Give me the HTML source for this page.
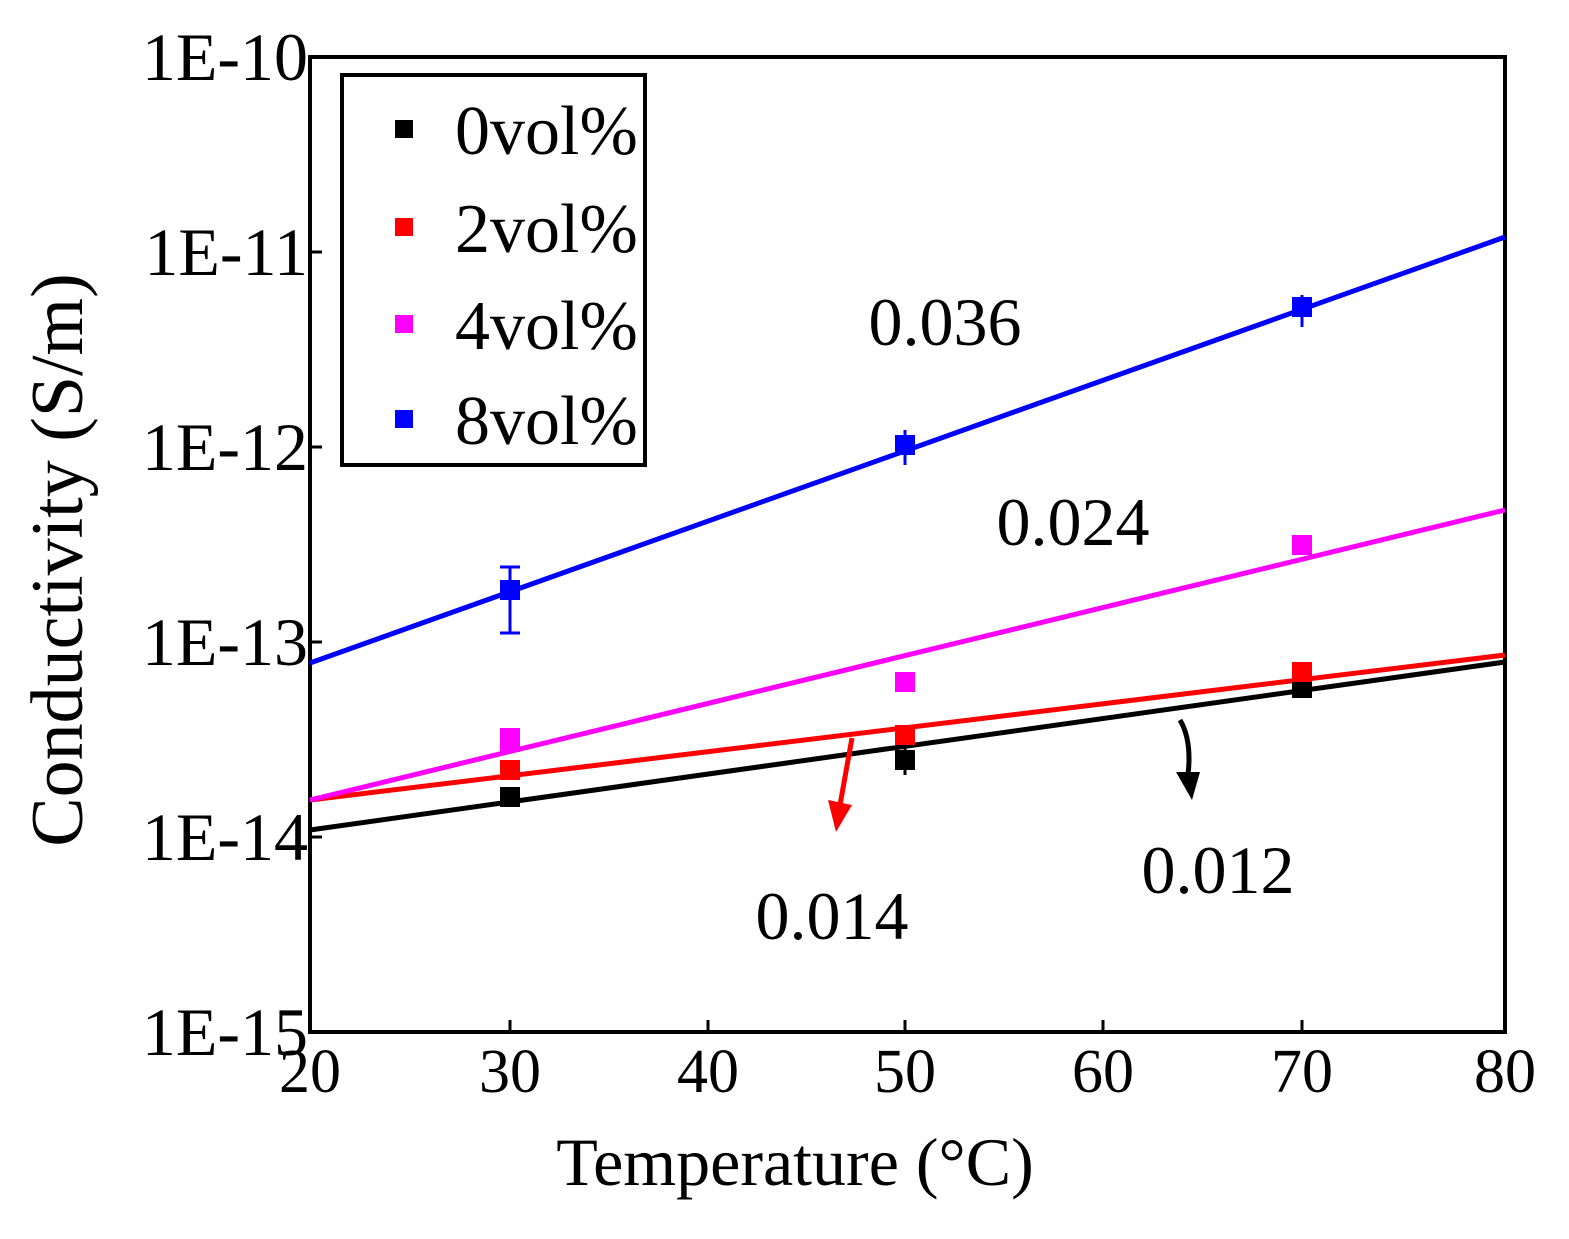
<!DOCTYPE html>
<html><head><meta charset="utf-8"><style>
html,body{margin:0;padding:0;background:#fff;}
text{font-family:"Liberation Serif",serif;fill:#000;}
</style></head><body>
<svg width="1569" height="1234" viewBox="0 0 1569 1234" xmlns="http://www.w3.org/2000/svg">
<rect x="310" y="57" width="1195" height="975" fill="none" stroke="#000" stroke-width="4"/>
<g stroke="#000" stroke-width="3">
<line x1="510" y1="1032" x2="510" y2="1020"/><line x1="708" y1="1032" x2="708" y2="1020"/>
<line x1="905" y1="1032" x2="905" y2="1020"/><line x1="1103" y1="1032" x2="1103" y2="1020"/>
<line x1="1302" y1="1032" x2="1302" y2="1020"/>
<line x1="310" y1="252" x2="322" y2="252"/><line x1="310" y1="447" x2="322" y2="447"/>
<line x1="310" y1="642" x2="322" y2="642"/><line x1="310" y1="837" x2="322" y2="837"/>
</g>
<g font-size="68" text-anchor="end">
<text x="308" y="80">1E-10</text><text x="308" y="275">1E-11</text>
<text x="308" y="470">1E-12</text><text x="308" y="665">1E-13</text>
<text x="308" y="860">1E-14</text><text x="308" y="1055">1E-15</text>
</g>
<g font-size="62" text-anchor="middle">
<text x="310" y="1092">20</text><text x="510" y="1092">30</text><text x="708" y="1092">40</text>
<text x="905" y="1092">50</text><text x="1103" y="1092">60</text><text x="1302" y="1092">70</text>
<text x="1505" y="1092">80</text>
</g>
<text x="795" y="1185" font-size="68" text-anchor="middle">Temperature (°C)</text>
<text transform="translate(82,560) rotate(-90)" font-size="74" text-anchor="middle">Conductivity (S/m)</text>
<line x1="310" y1="830" x2="1505" y2="662" stroke="#000" stroke-width="5"/>
<line x1="310" y1="800" x2="1505" y2="655" stroke="#f00" stroke-width="5"/>
<line x1="310" y1="800" x2="1505" y2="510" stroke="#f0f" stroke-width="5"/>
<line x1="310" y1="663" x2="1505" y2="237" stroke="#00f" stroke-width="5"/>
<g stroke="#00f" stroke-width="3">
<line x1="510" y1="567" x2="510" y2="633"/><line x1="500" y1="567" x2="520" y2="567"/><line x1="500" y1="633" x2="520" y2="633"/>
<line x1="905" y1="430" x2="905" y2="465"/><line x1="1302" y1="295" x2="1302" y2="327"/>
</g>
<g stroke="#000" stroke-width="3"><line x1="905" y1="745" x2="905" y2="775"/></g>
<g fill="#000"><rect x="500" y="787" width="20" height="20"/><rect x="895" y="750" width="20" height="20"/><rect x="1292" y="678" width="20" height="20"/></g>
<g fill="#f00"><rect x="500" y="760" width="20" height="20"/><rect x="895" y="725" width="20" height="20"/><rect x="1292" y="662" width="20" height="20"/></g>
<g fill="#f0f"><rect x="500" y="728" width="20" height="24"/><rect x="895" y="672" width="20" height="20"/><rect x="1292" y="535" width="20" height="20"/></g>
<g fill="#00f"><rect x="500" y="580" width="20" height="20"/><rect x="895" y="435" width="20" height="20"/><rect x="1292" y="297" width="20" height="20"/></g>
<rect x="342" y="75" width="303" height="390" fill="#fff" stroke="#000" stroke-width="4"/>
<rect x="395" y="120" width="18" height="18" fill="#000"/>
<rect x="395" y="218" width="18" height="18" fill="#f00"/>
<rect x="395" y="315" width="18" height="18" fill="#f0f"/>
<rect x="395" y="410" width="18" height="18" fill="#00f"/>
<g font-size="70"><text x="455" y="154">0vol%</text><text x="455" y="252">2vol%</text>
<text x="455" y="349">4vol%</text><text x="455" y="444">8vol%</text></g>
<g font-size="68" text-anchor="middle">
<text x="945" y="345">0.036</text><text x="1073" y="545">0.024</text>
<text x="832" y="939">0.014</text><text x="1218" y="893">0.012</text>
</g>
<line x1="852" y1="738" x2="840" y2="805" stroke="#f00" stroke-width="5"/>
<polygon points="828,800 852,805 836,832" fill="#f00"/>
<path d="M1180,720 Q1192,740 1188,775" stroke="#000" stroke-width="5" fill="none"/>
<polygon points="1176,772 1200,772 1192,800" fill="#000"/>
</svg>
</body></html>
